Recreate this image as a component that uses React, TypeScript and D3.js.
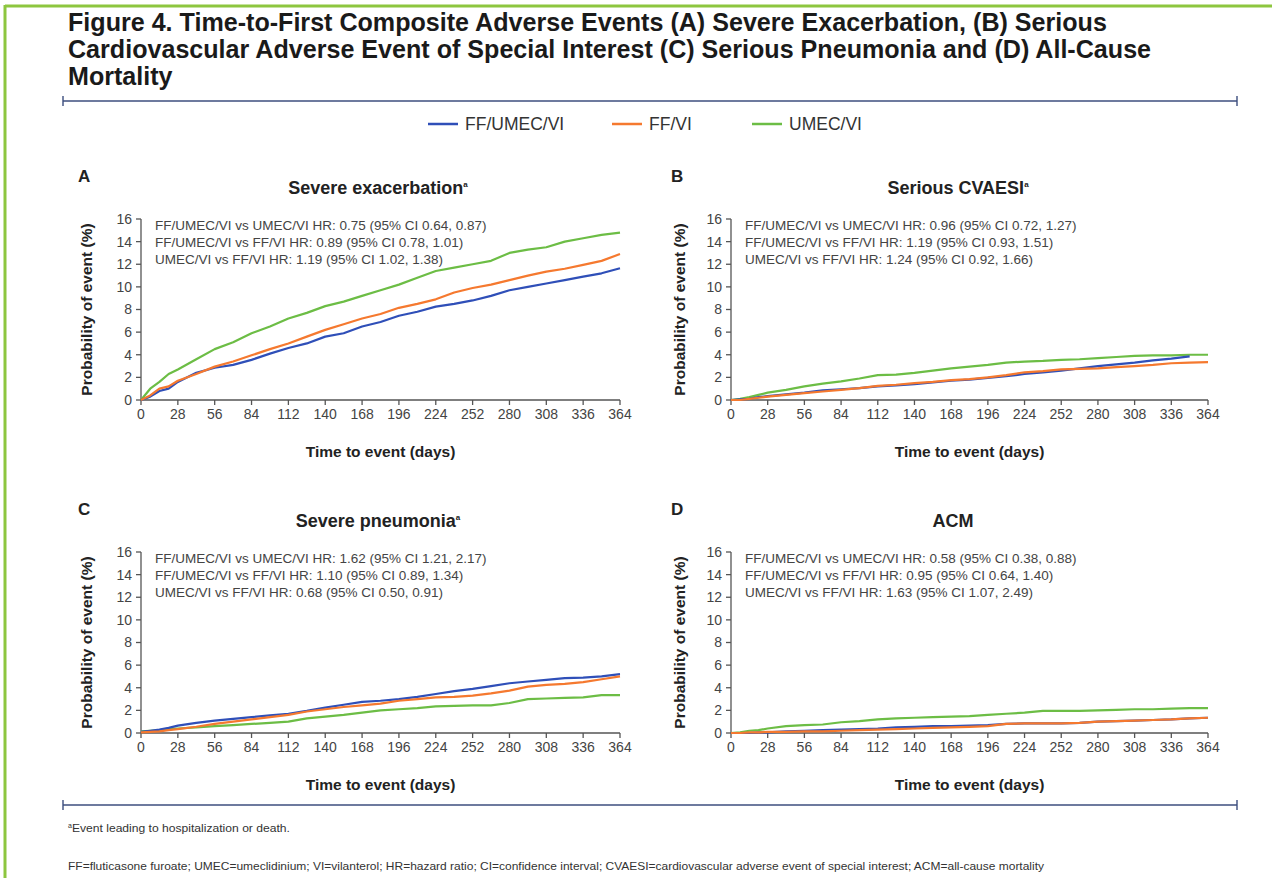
import React from "react";
import * as d3 from "d3";

const days = [0, 7, 14, 21, 28, 42, 56, 70, 84, 98, 112, 126, 140, 154, 168, 182, 196, 210, 224, 238, 252, 266, 280, 294, 308, 322, 336, 350, 364];
const xTicks = [0, 28, 56, 84, 112, 140, 168, 196, 224, 252, 280, 308, 336, 364];
const yTicks = [0, 2, 4, 6, 8, 10, 12, 14, 16];

const seriesNames = ["FF/UMEC/VI", "FF/VI", "UMEC/VI"];
const seriesColors = ["#2f4fb8", "#f5792f", "#6cbd45"];

// Panel A: Severe exacerbation
const aFFUMECVI = [0, 0.3, 0.8, 1.0, 1.6, 2.4, 2.85, 3.1, 3.55, 4.1, 4.6, 5.0, 5.6, 5.9, 6.5, 6.9, 7.45, 7.8, 8.25, 8.5, 8.8, 9.2, 9.7, 10.0, 10.3, 10.6, 10.9, 11.2, 11.65];
const aFFVI = [0, 0.4, 1.0, 1.2, 1.7, 2.3, 2.95, 3.4, 3.95, 4.5, 5.0, 5.6, 6.2, 6.7, 7.2, 7.6, 8.15, 8.5, 8.9, 9.5, 9.9, 10.2, 10.6, 11.0, 11.35, 11.6, 11.95, 12.3, 12.9];
const aUMECVI = [0, 1.0, 1.6, 2.3, 2.7, 3.6, 4.5, 5.1, 5.9, 6.5, 7.2, 7.7, 8.3, 8.7, 9.2, 9.7, 10.2, 10.8, 11.4, 11.7, 12.0, 12.3, 13.0, 13.3, 13.5, 14.0, 14.3, 14.6, 14.8];

// Panel B: Serious CVAESI
const bFFUMECVI = [0, 0.05, 0.1, 0.25, 0.35, 0.5, 0.65, 0.85, 0.95, 1.05, 1.2, 1.3, 1.4, 1.55, 1.7, 1.8, 1.95, 2.1, 2.3, 2.45, 2.6, 2.8, 3.0, 3.15, 3.3, 3.5, 3.65, 3.85, null];
const bFFVI = [0, 0.0, 0.1, 0.2, 0.3, 0.45, 0.6, 0.75, 0.9, 1.05, 1.25, 1.35, 1.5, 1.6, 1.75, 1.85, 2.0, 2.2, 2.45, 2.55, 2.7, 2.75, 2.8, 2.9, 3.0, 3.1, 3.25, 3.3, 3.35];
const bUMECVI = [0, 0.1, 0.25, 0.45, 0.65, 0.9, 1.2, 1.45, 1.65, 1.9, 2.2, 2.25, 2.4, 2.6, 2.8, 2.95, 3.1, 3.3, 3.4, 3.45, 3.55, 3.6, 3.7, 3.8, 3.9, 3.95, 3.95, 4.0, 4.0];

// Panel C: Severe pneumonia
const cFFUMECVI = [0.1, 0.2, 0.3, 0.45, 0.65, 0.9, 1.1, 1.25, 1.4, 1.55, 1.7, 1.95, 2.25, 2.5, 2.75, 2.85, 3.0, 3.2, 3.45, 3.7, 3.9, 4.15, 4.4, 4.55, 4.7, 4.85, 4.9, 5.0, 5.2];
const cFFVI = [0.05, 0.1, 0.15, 0.25, 0.35, 0.55, 0.8, 1.0, 1.2, 1.4, 1.6, 1.9, 2.1, 2.3, 2.45, 2.6, 2.85, 3.0, 3.15, 3.2, 3.3, 3.5, 3.75, 4.1, 4.25, 4.35, 4.5, 4.75, 5.0];
const cUMECVI = [0.15, 0.2, 0.25, 0.35, 0.4, 0.5, 0.6, 0.7, 0.8, 0.9, 1.0, 1.3, 1.45, 1.6, 1.8, 2.0, 2.1, 2.2, 2.35, 2.4, 2.45, 2.45, 2.65, 3.0, 3.05, 3.1, 3.15, 3.35, 3.35];

// Panel D: ACM
const dFFUMECVI = [0, 0, 0, 0.05, 0.05, 0.15, 0.2, 0.25, 0.3, 0.35, 0.4, 0.5, 0.55, 0.6, 0.6, 0.65, 0.7, 0.8, 0.85, 0.85, 0.85, 0.9, 1.0, 1.05, 1.1, 1.15, 1.2, 1.3, 1.35];
const dFFVI = [0, 0, 0.05, 0.05, 0.1, 0.1, 0.15, 0.15, 0.2, 0.25, 0.3, 0.35, 0.4, 0.45, 0.5, 0.55, 0.6, 0.8, 0.85, 0.85, 0.85, 0.9, 1.0, 1.05, 1.1, 1.15, 1.2, 1.3, 1.35];
const dUMECVI = [0, 0.05, 0.2, 0.25, 0.4, 0.6, 0.7, 0.75, 0.95, 1.05, 1.2, 1.3, 1.35, 1.4, 1.45, 1.5, 1.6, 1.7, 1.8, 1.95, 1.95, 1.95, 2.0, 2.05, 2.1, 2.1, 2.15, 2.2, 2.2];

const panelLetters = ["A", "B", "C", "D"];
const panelTitles = ["Severe exacerbation", "Serious CVAESI", "Severe pneumonia", "ACM"];
const panelTitleSup = [true, true, true, false];
const hrTexts = [
  [
    "FF/UMEC/VI vs UMEC/VI HR: 0.75 (95% CI 0.64, 0.87)",
    "FF/UMEC/VI vs FF/VI HR: 0.89 (95% CI 0.78, 1.01)",
    "UMEC/VI vs FF/VI HR: 1.19 (95% CI 1.02, 1.38)",
  ],
  [
    "FF/UMEC/VI vs UMEC/VI HR: 0.96 (95% CI 0.72, 1.27)",
    "FF/UMEC/VI vs FF/VI HR: 1.19 (95% CI 0.93, 1.51)",
    "UMEC/VI vs FF/VI HR: 1.24 (95% CI 0.92, 1.66)",
  ],
  [
    "FF/UMEC/VI vs UMEC/VI HR: 1.62 (95% CI 1.21, 2.17)",
    "FF/UMEC/VI vs FF/VI HR: 1.10 (95% CI 0.89, 1.34)",
    "UMEC/VI vs FF/VI HR: 0.68 (95% CI 0.50, 0.91)",
  ],
  [
    "FF/UMEC/VI vs UMEC/VI HR: 0.58 (95% CI 0.38, 0.88)",
    "FF/UMEC/VI vs FF/VI HR: 0.95 (95% CI 0.64, 1.40)",
    "UMEC/VI vs FF/VI HR: 1.63 (95% CI 1.07, 2.49)",
  ],
];
const panelData = [
  [aFFUMECVI, aFFVI, aUMECVI],
  [bFFUMECVI, bFFVI, bUMECVI],
  [cFFUMECVI, cFFVI, cUMECVI],
  [dFFUMECVI, dFFVI, dUMECVI],
];

const titleLines = [
  "Figure 4. Time-to-First Composite Adverse Events (A) Severe Exacerbation, (B) Serious",
  "Cardiovascular Adverse Event of Special Interest (C) Serious Pneumonia and (D) All-Cause",
  "Mortality",
];
const footnote1 = "Event leading to hospitalization or death.";
const footnote2 =
  "FF=fluticasone furoate; UMEC=umeclidinium; VI=vilanterol; HR=hazard ratio; CI=confidence interval; CVAESI=cardiovascular adverse event of special interest; ACM=all-cause mortality";

const FONT = "'Liberation Sans', Arial, Helvetica, sans-serif";

const layouts = [
  { x0: 141, x1: 620, y0: 400, y1: 219, letterX: 78, letterY: 182, titleX: 378, titleY: 194, ylabX: 87 },
  { x0: 731, x1: 1208, y0: 400, y1: 219, letterX: 671, letterY: 182, titleX: 958, titleY: 194, ylabX: 680 },
  { x0: 141, x1: 620, y0: 733, y1: 552, letterX: 78, letterY: 515, titleX: 378, titleY: 527, ylabX: 87 },
  { x0: 731, x1: 1208, y0: 733, y1: 552, letterX: 671, letterY: 515, titleX: 953, titleY: 527, ylabX: 680 },
];

function Panel({ idx }: { idx: number }) {
  const L = layouts[idx];
  const x = d3.scaleLinear().domain([0, 364]).range([L.x0, L.x1]);
  const y = d3.scaleLinear().domain([0, 16]).range([L.y0, L.y1]);
  const axisColor = "#555";
  const textColor = "#444";
  const line = d3
    .line<[number, number | null]>()
    .defined((d) => d[1] !== null)
    .x((d) => x(d[0]))
    .y((d) => y(d[1] as number))
    .curve(d3.curveLinear);
  const order = [2, 0, 1];
  return (
    <g>
      <text x={L.letterX} y={L.letterY} fontFamily={FONT} fontWeight="bold" fontSize={17} fill="#222">
        {panelLetters[idx]}
      </text>
      <text x={L.titleX} y={L.titleY} fontFamily={FONT} fontWeight="bold" fontSize={18} fill="#222" textAnchor="middle">
        {panelTitles[idx]}
        {panelTitleSup[idx] ? (
          <tspan fontSize={8} dy={-7}>
            a
          </tspan>
        ) : null}
      </text>
      {hrTexts[idx].map((t, i) => (
        <text key={i} x={L.x0 + 14} y={L.y1 + 11 + i * 17} fontFamily={FONT} fontSize={13.5} fill={textColor}>
          {t}
        </text>
      ))}
      {/* y axis */}
      <line x1={L.x0} x2={L.x0} y1={y(0)} y2={y(16)} stroke={axisColor} strokeWidth={1.3} />
      {yTicks.map((t) => (
        <g key={t}>
          <line x1={L.x0 - 5} x2={L.x0} y1={y(t)} y2={y(t)} stroke={axisColor} strokeWidth={1.3} />
          <text x={L.x0 - 9} y={y(t)} dy="0.35em" textAnchor="end" fontFamily={FONT} fontSize={14} fill={textColor}>
            {t}
          </text>
        </g>
      ))}
      {/* x axis */}
      <line x1={x(0)} x2={x(364)} y1={L.y0} y2={L.y0} stroke={axisColor} strokeWidth={1.3} />
      {xTicks.map((t) => (
        <g key={t}>
          <line x1={x(t)} x2={x(t)} y1={L.y0} y2={L.y0 + 5} stroke={axisColor} strokeWidth={1.3} />
          <text x={x(t)} y={L.y0 + 19} textAnchor="middle" fontFamily={FONT} fontSize={14} fill={textColor}>
            {t}
          </text>
        </g>
      ))}
      <text
        x={(L.x0 + L.x1) / 2}
        y={L.y0 + 57}
        textAnchor="middle"
        fontFamily={FONT}
        fontWeight="bold"
        fontSize={15.5}
        fill="#222"
      >
        Time to event (days)
      </text>
      <text
        transform={`translate(${L.ylabX},${(L.y0 + L.y1) / 2}) rotate(-90)`}
        textAnchor="middle"
        dy="0.35em"
        fontFamily={FONT}
        fontWeight="bold"
        fontSize={15.5}
        fill="#222"
      >
        Probability of event (%)
      </text>
      {order.map((s) => {
        const pts = days.map((d, i) => [d, panelData[idx][s][i]] as [number, number | null]);
        return (
          <path key={s} d={line(pts) || ""} fill="none" stroke={seriesColors[s]} strokeWidth={2.2} strokeLinejoin="round" />
        );
      })}
    </g>
  );
}

function Rule({ y }: { y: number }) {
  const c = "#3c4e7e";
  return (
    <g>
      <line x1={63} x2={1237} y1={y} y2={y} stroke={c} strokeWidth={1.6} />
      <line x1={63} x2={63} y1={y - 5} y2={y + 5} stroke={c} strokeWidth={1.4} />
      <line x1={1237} x2={1237} y1={y - 5} y2={y + 5} stroke={c} strokeWidth={1.4} />
    </g>
  );
}

export default function App() {
  const legendX = [428, 612, 752];
  return (
    <svg
      width={1272}
      height={878}
      viewBox="0 0 1272 878"
      style={{ position: "absolute", left: 0, top: 0, background: "#fff" }}
    >
      <rect x={0} y={0} width={1272} height={878} fill="#fff" />
      {/* green frame */}
      <line x1={5} x2={1272} y1={6} y2={6} stroke="#8dc63f" strokeWidth={3} />
      <line x1={5} x2={5} y1={5} y2={878} stroke="#8dc63f" strokeWidth={3} />
      {titleLines.map((t, i) => (
        <text key={i} x={68} y={31 + i * 27} fontFamily={FONT} fontWeight="bold" fontSize={25.1} fill="#1a1a1a">
          {t}
        </text>
      ))}
      <Rule y={101} />
      {seriesNames.map((n, i) => (
        <g key={n}>
          <line x1={legendX[i]} x2={legendX[i] + 30} y1={124} y2={124} stroke={seriesColors[i]} strokeWidth={2.5} />
          <text x={legendX[i] + 37} y={124} dy="0.35em" fontFamily={FONT} fontSize={17.5} fill="#333">
            {n}
          </text>
        </g>
      ))}
      {[0, 1, 2, 3].map((i) => (
        <Panel key={i} idx={i} />
      ))}
      <Rule y={805} />
      <text x={68} y={832} fontFamily={FONT} fontSize={11} fill="#333">
        <tspan fontSize={7} dy={-4}>
          a
        </tspan>
        <tspan dy={4} textLength={218} lengthAdjust="spacingAndGlyphs">
          {footnote1}
        </tspan>
      </text>
      <text x={68} y={870} fontFamily={FONT} fontSize={11} fill="#333" textLength={976} lengthAdjust="spacingAndGlyphs">
        {footnote2}
      </text>
    </svg>
  );
}
